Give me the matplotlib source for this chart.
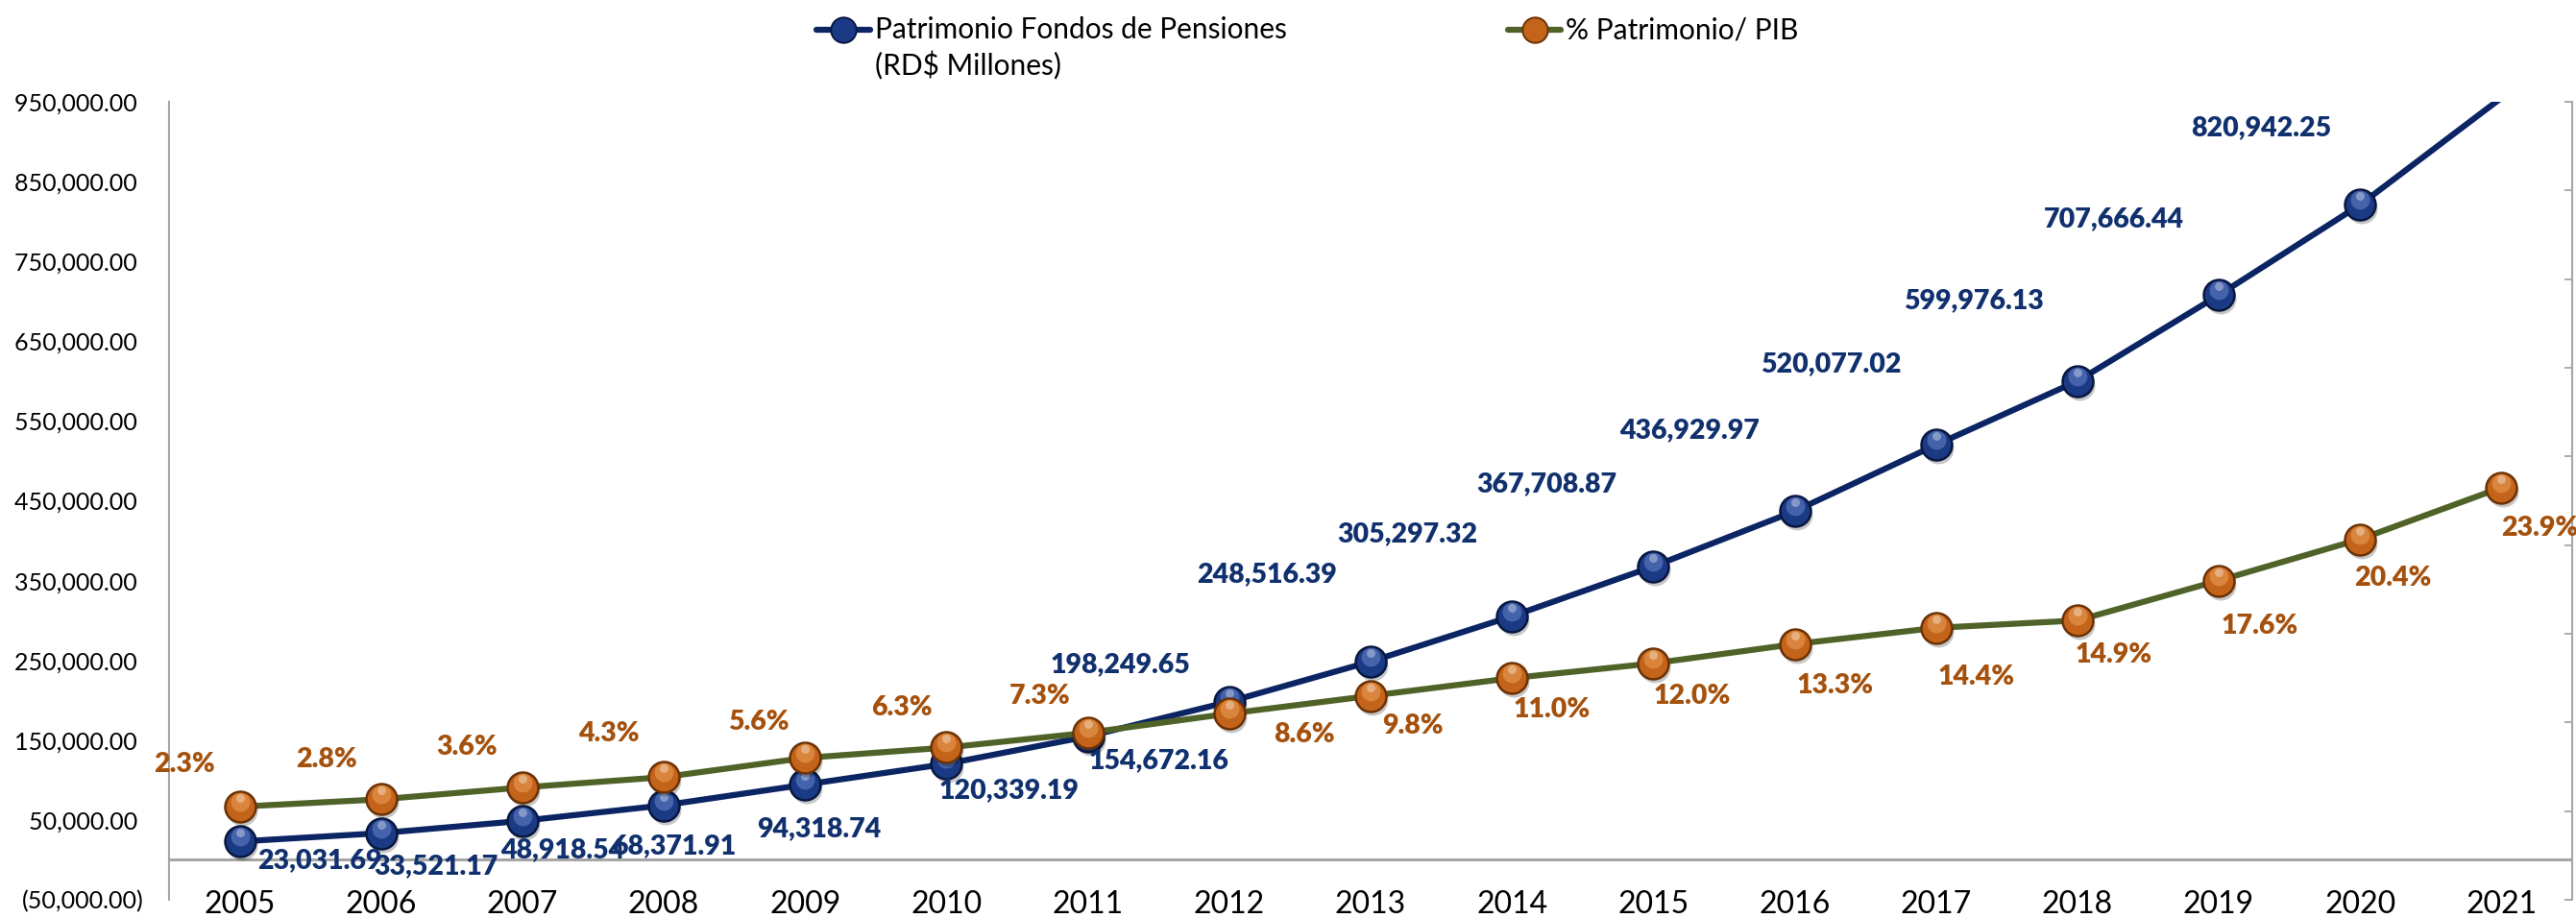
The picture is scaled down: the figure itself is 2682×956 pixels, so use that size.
import matplotlib
matplotlib.use("Agg")
import numpy as np
import matplotlib.pyplot as plt
from matplotlib.lines import Line2D
from matplotlib import transforms
from matplotlib.ticker import FuncFormatter

# ---- data ----
years = [str(y) for y in range(2005, 2022)]
patrimonio = [23031.69, 33521.17, 48918.54, 68371.91, 94318.74, 120339.19,
              154672.16, 198249.65, 248516.39, 305297.32, 367708.87,
              436929.97, 520077.02, 599976.13, 707666.44, 820942.25, 955000.00]
pct_pib = [2.3, 2.8, 3.6, 4.3, 5.6, 6.3, 7.3, 8.6, 9.8, 11.0, 12.0, 13.3,
           14.4, 14.9, 17.6, 20.4, 23.9]
y_ticks = list(range(-50000, 950001, 100000))
y2_ticks = list(range(-4, 51, 6))

# label offsets (pixels, +x right, +y down)
blue_off = [(83, 20), (57, 35), (42, 30), (11, 42), (14, 46), (65, 28), (74, 25),
            (-113, -39), (-108, -91), (-109, -86), (-111, -86), (-109, -84),
            (-109, -84), (-108, -84), (-109, -79), (-103, -80), (0, 0)]
orange_off = [(-58, -44), (-57, -41), (-58, -42), (-57, -45), (-48, -37), (-47, -41),
              (-50, -38), (78, 22), (44, 31), (42, 33), (40, 34), (42, 43), (42, 51),
              (38, 36), (43, 47), (34, 40), (40, 42)]

plt.rcParams['font.family'] = ['Lato', 'DejaVu Sans']

BLUE_LINE = '#0B2463'
BLUE_BASE = '#1B3A86'
BLUE_DARK = '#08173F'
BLUE_LIGHT = '#6F8CD0'
BLUE_TEXT = '#10306E'
GREEN_LINE = '#4F6228'
OR_BASE = '#C4631A'
OR_DARK = '#6A3206'
OR_LIGHT = '#F0A860'
OR_TEXT = '#A5510E'
GRAY = '#A6A6A6'

W, H = 2682, 956
PX = 72 / 100.0  # points per pixel
Y_MIN, Y_MAX = -50000, 950000

fig = plt.figure(figsize=(W / 100, H / 100), dpi=100)
ax = fig.add_axes([176 / W, 1 - 937 / H, (2678 - 176) / W, (937 - 106) / H])
ax2 = ax.twinx()

xs = list(range(len(years)))


def sphere(axis, xv, yv, base, dark, light, size, z):
    shadow = transforms.offset_copy(axis.transData, fig=fig, x=2, y=-4, units='dots')
    axis.plot(xv, yv, ls='none', marker='o', ms=size, mfc='black', mec='none',
              alpha=0.22, transform=shadow, zorder=z)
    axis.plot(xv, yv, ls='none', marker='o', ms=size, mfc=base, mec=dark,
              mew=1.8, zorder=z + 0.1)
    hi = transforms.offset_copy(axis.transData, fig=fig, x=0, y=5, units='dots')
    axis.plot(xv, yv, ls='none', marker='o', ms=size * 0.62, mfc=light, mec='none',
              alpha=0.5, transform=hi, zorder=z + 0.2)
    hi2 = transforms.offset_copy(axis.transData, fig=fig, x=0, y=9, units='dots')
    axis.plot(xv, yv, ls='none', marker='o', ms=size * 0.28, mfc='white', mec='none',
              alpha=0.35, transform=hi2, zorder=z + 0.3)


# primary axis: fund assets
ax.set_xlim(-0.5, len(years) - 0.5)
ax.set_ylim(Y_MIN, Y_MAX)
ax.axhline(0, color=GRAY, lw=2.2, zorder=1)
ax.plot(xs, patrimonio, color=BLUE_LINE, lw=4.5, zorder=2, solid_capstyle='butt')
# points beyond the axis range get no marker
shown = [v if v <= Y_MAX else np.nan for v in patrimonio]
sphere(ax, xs, shown, BLUE_BASE, BLUE_DARK, BLUE_LIGHT, 23, 3)
for i, v in enumerate(patrimonio):
    dx, dy = blue_off[i]
    ax.annotate(f"{v:,.2f}", (xs[i], v), xytext=(dx * PX, -dy * PX),
                textcoords='offset points', ha='center', va='center',
                fontsize=20.5, fontweight='heavy', color=BLUE_TEXT, zorder=5)

ax.set_yticks(y_ticks)
ax.yaxis.set_major_formatter(FuncFormatter(
    lambda v, p: f"({abs(v):,.2f})" if v < 0 else f"{v:,.2f} "))
ax.set_xticks(xs)
ax.set_xticklabels(years)
ax.tick_params(axis='y', length=0, pad=19, labelsize=18, labelcolor='black')
ax.tick_params(axis='x', length=0, pad=-7, labelsize=23, labelcolor='black')
for s in ('top', 'right', 'bottom'):
    ax.spines[s].set_visible(False)
ax.spines['left'].set_color(GRAY)
ax.spines['left'].set_linewidth(1.5)

# secondary axis: assets as % of GDP
ax2.set_ylim(-4, 50)
ax2.plot(xs, pct_pib, color=GREEN_LINE, lw=4.5, zorder=2, solid_capstyle='butt')
sphere(ax2, xs, pct_pib, OR_BASE, OR_DARK, OR_LIGHT, 23, 3)
for i, p in enumerate(pct_pib):
    dx, dy = orange_off[i]
    ax2.annotate(f"{p:.1f}%", (xs[i], p), xytext=(dx * PX, -dy * PX),
                 textcoords='offset points', ha='center', va='center',
                 fontsize=20.5, fontweight='heavy', color=OR_TEXT, zorder=5)
ax2.set_yticks(y2_ticks)
ax2.tick_params(axis='y', direction='in', length=6, width=1.3, color=GRAY,
                labelright=False)
for s in ('top', 'left', 'bottom'):
    ax2.spines[s].set_visible(False)
ax2.spines['right'].set_color(GRAY)
ax2.spines['right'].set_linewidth(1.5)


# legend
def legend_entry(x0, x1, y, line_c, base, dark):
    fy = 1 - y / H
    fig.add_artist(Line2D([x0 / W, x1 / W], [fy, fy], transform=fig.transFigure,
                          color=line_c, lw=4.5, solid_capstyle='round'))
    fig.add_artist(Line2D([(x0 + x1) / 2 / W], [fy], transform=fig.transFigure,
                          ls='none', marker='o', ms=19, mfc=base, mec=dark, mew=1.4))


legend_entry(850, 906, 31, BLUE_LINE, BLUE_BASE, BLUE_DARK)
fig.text(911 / W, 1 - 31 / H, "Patrimonio Fondos de Pensiones", ha='left',
         va='center', fontsize=21.5)
fig.text(911 / W, 1 - 68 / H, "(RD$ Millones)", ha='left', va='center', fontsize=21.5)
legend_entry(1570, 1625, 31, GREEN_LINE, OR_BASE, OR_DARK)
fig.text(1630 / W, 1 - 31 / H, "% Patrimonio/ PIB", ha='left', va='center',
         fontsize=21.5)

fig.savefig("out.png", dpi=100)
